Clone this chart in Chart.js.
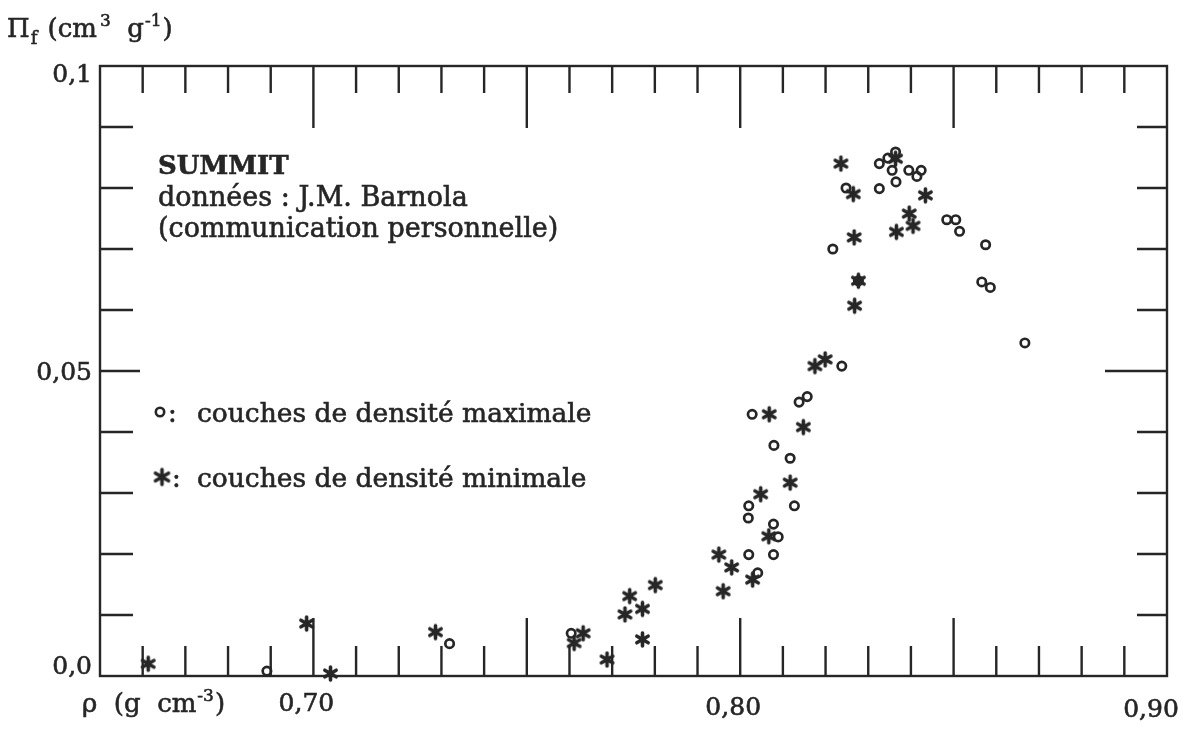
<!DOCTYPE html>
<html>
<head>
<meta charset="utf-8">
<script src="https://cdn.jsdelivr.net/npm/chart.js@4.4.1/dist/chart.umd.min.js"></script>
<style>
  html, body { margin: 0; padding: 0; background: #fff; }
  canvas { display: block; }
</style>
</head>
<body>
<canvas id="porosity-canvas" width="1189" height="729"></canvas>
<script>
// couches de densité maximale (o)
var rhoMax = [0.6891, 0.7319, 0.7604, 0.8020, 0.8078, 0.8041, 0.8089, 0.8078, 0.8019, 0.8020,
              0.8127, 0.8117, 0.8079, 0.8028, 0.8138, 0.8157, 0.8238, 0.8217, 0.8248, 0.8326,
              0.8326, 0.8346, 0.8364, 0.8356, 0.8365, 0.8395, 0.8414, 0.8424, 0.8484, 0.8505,
              0.8514, 0.8575, 0.8566, 0.8586, 0.8667, 0.8277];
var piMax  = [0.0008, 0.0053, 0.0070, 0.0199, 0.0199, 0.0169, 0.0228, 0.0249, 0.0259, 0.0279,
              0.0279, 0.0357, 0.0378, 0.0429, 0.0449, 0.0458, 0.0508, 0.0700, 0.0800, 0.0799,
              0.0840, 0.0849, 0.0859, 0.0829, 0.0810, 0.0829, 0.0819, 0.0829, 0.0748, 0.0748,
              0.0729, 0.0707, 0.0646, 0.0637, 0.0546, 0.0648];

// couches de densité minimale (*)
var rhoMin = [0.6613, 0.6984, 0.7040, 0.7286, 0.7632, 0.7611, 0.7688, 0.7730, 0.7741, 0.7771,
              0.7801, 0.7771, 0.7960, 0.7950, 0.7980, 0.8029, 0.8067, 0.8048, 0.8117, 0.8068,
              0.8148, 0.8175, 0.8199, 0.8268, 0.8277, 0.8267, 0.8265, 0.8236, 0.8364, 0.8434,
              0.8396, 0.8405, 0.8366];
var piMin  = [0.0020, 0.0086, 0.0004, 0.0072, 0.0070, 0.0054, 0.0027, 0.0101, 0.0131, 0.0110,
              0.0149, 0.0060, 0.0139, 0.0199, 0.0178, 0.0158, 0.0229, 0.0298, 0.0317, 0.0429,
              0.0408, 0.0508, 0.0519, 0.0607, 0.0648, 0.0719, 0.0790, 0.0840, 0.0848, 0.0788,
              0.0758, 0.0738, 0.0728];

var xLabels = [[0.70, '0,70'], [0.80, '0,80'], [0.90, '0,90']];
var yLabels = [[0.1, '0,1'], [0.05, '0,05'], [0.0, '0,0']];

var INK = '#262626';
var FONT = '"DejaVu Serif", "Liberation Serif", serif';

function toPoints(xs, ys) {
  var pts = [];
  for (var i = 0; i < xs.length; i++) pts.push({x: xs[i], y: ys[i]});
  return pts;
}

// heavy six-armed asterisk used as point style
function makeStar(r, lw) {
  var c = document.createElement('canvas');
  var s = Math.ceil(2 * r + lw + 2);
  c.width = s; c.height = s;
  var g = c.getContext('2d');
  g.strokeStyle = INK;
  g.lineWidth = lw;
  g.lineCap = 'round';
  g.translate(s / 2, s / 2);
  for (var k = 0; k < 3; k++) {
    var a = Math.PI / 2 + k * Math.PI / 3;
    g.beginPath();
    g.moveTo(Math.cos(a) * r, Math.sin(a) * r);
    g.lineTo(-Math.cos(a) * r, -Math.sin(a) * r);
    g.stroke();
  }
  g.beginPath();
  g.arc(0, 0, lw * 0.9, 0, Math.PI * 2);
  g.fillStyle = INK;
  g.fill();
  return c;
}
var starImg = makeStar(6.5, 3.6);
var legendStar = makeStar(7.5, 3.6);

// text with a hairline stroke so the serif face looks as heavy as the printed one
function text(ctx, str, x, y, size, weight) {
  ctx.font = (weight || '') + ' ' + size + 'px ' + FONT;
  ctx.fillText(str, x, y);
  ctx.strokeText(str, x, y);
  return x + ctx.measureText(str).width;
}

var frameTicks = {
  id: 'frameTicks',
  beforeDraw: function(chart) {
    var ctx = chart.ctx;
    ctx.save();
    ctx.fillStyle = '#fff';
    ctx.fillRect(0, 0, chart.width, chart.height);
    ctx.restore();
  },
  beforeDatasetsDraw: function(chart) {
    var ctx = chart.ctx, a = chart.chartArea;
    var xs = chart.scales.x, ys = chart.scales.y;
    ctx.save();
    ctx.strokeStyle = INK;
    ctx.lineWidth = 2.4;
    ctx.strokeRect(a.left, a.top, a.right - a.left, a.bottom - a.top);
    ctx.beginPath();
    for (var k = 66; k <= 89; k++) {
      var px = xs.getPixelForValue(k / 100);
      var major = k % 5 === 0;
      ctx.moveTo(px, a.bottom); ctx.lineTo(px, a.bottom - (major ? 58 : 30));
      ctx.moveTo(px, a.top); ctx.lineTo(px, a.top + (major ? 62 : 27));
    }
    for (var j = 1; j <= 9; j++) {
      var py = ys.getPixelForValue(j / 100);
      var big = j === 5;
      ctx.moveTo(a.left, py); ctx.lineTo(a.left + (big ? 40 : 33), py);
      ctx.moveTo(a.right, py); ctx.lineTo(a.right - (big ? 62 : 30), py);
    }
    ctx.stroke();
    ctx.restore();
  },
  afterDraw: function(chart) {
    var ctx = chart.ctx;
    var xs = chart.scales.x, ys = chart.scales.y;
    ctx.save();
    ctx.fillStyle = INK;
    ctx.strokeStyle = INK;
    ctx.lineWidth = 0.6;
    ctx.textBaseline = 'alphabetic';

    // tick labels
    ctx.textAlign = 'right';
    var yOff = [16, 9, -2];
    yLabels.forEach(function(l, i) {
      text(ctx, l[1], 92, ys.getPixelForValue(l[0]) + yOff[i], 25);
    });
    ctx.textAlign = 'center';
    var xOff = [[-7, 711], [-7, 715], [-16, 717]];
    xLabels.forEach(function(l, i) {
      text(ctx, l[1], xs.getPixelForValue(l[0]) + xOff[i][0], xOff[i][1], 25);
    });

    // axis titles
    ctx.textAlign = 'left';
    var x = text(ctx, 'Π', 7, 37, 26);
    x = text(ctx, 'f', x + 1, 44, 18);
    x = text(ctx, ' (cm', x + 2, 37, 26);
    x = text(ctx, '3', x + 3, 26, 17);
    x = text(ctx, '  g', x, 37, 26);
    x = text(ctx, '-1', x + 1, 26, 17);
    text(ctx, ')', x + 1, 37, 26);

    x = text(ctx, 'ρ  (g  cm', 82, 712, 26);
    x = text(ctx, '-3', x + 1, 701, 17);
    text(ctx, ')', x + 1, 712, 26);

    // annotation
    text(ctx, 'SUMMIT', 158, 174, 26, 'bold');
    text(ctx, 'données : J.M. Barnola', 158, 206, 27);
    text(ctx, '(communication personnelle)', 158, 237, 27);

    // legend
    ctx.lineWidth = 2.6;
    ctx.beginPath();
    ctx.arc(160, 412, 4.2, 0, Math.PI * 2);
    ctx.stroke();
    ctx.drawImage(legendStar, 162 - legendStar.width / 2, 477 - legendStar.height / 2);
    ctx.lineWidth = 0.6;
    text(ctx, ':', 168, 422, 26);
    text(ctx, 'couches de densité maximale', 197, 422, 26.5);
    text(ctx, ':', 172, 487, 26);
    text(ctx, 'couches de densité minimale', 197, 487, 26.5);
    ctx.restore();
  }
};

window.onload = function() {
  var ctx = document.getElementById('porosity-canvas').getContext('2d');
  window.porosityChart = new Chart(ctx, {
    type: 'scatter',
    data: {
      datasets: [
        {
          label: 'couches de densité maximale',
          data: toPoints(rhoMax, piMax),
          pointStyle: 'circle',
          pointRadius: 4.2,
          pointBorderWidth: 2.7,
          borderColor: INK,
          backgroundColor: 'rgba(0,0,0,0)',
          clip: false
        },
        {
          label: 'couches de densité minimale',
          data: toPoints(rhoMin, piMin),
          pointStyle: starImg,
          clip: false
        }
      ]
    },
    options: {
      responsive: false,
      animation: false,
      devicePixelRatio: 1,
      layout: { padding: { left: 100, right: 22, top: 66, bottom: 53 } },
      scales: {
        x: { type: 'linear', min: 0.65, max: 0.90, display: false },
        y: { type: 'linear', min: 0, max: 0.1, display: false }
      },
      plugins: {
        legend: { display: false },
        tooltip: { enabled: false }
      }
    },
    plugins: [frameTicks]
  });
};
</script>
</body>
</html>
